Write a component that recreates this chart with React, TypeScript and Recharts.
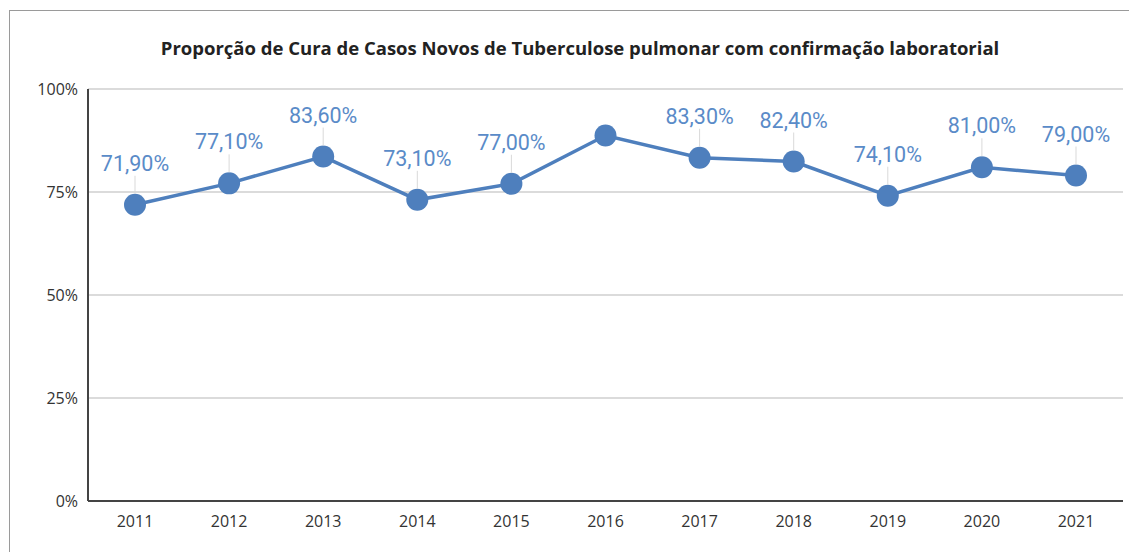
import { CartesianGrid, Line, LineChart, XAxis, YAxis } from "recharts";

const years = ["2011", "2012", "2013", "2014", "2015", "2016", "2017", "2018", "2019", "2020", "2021"];
const cure = [71.9, 77.1, 83.6, 73.1, 77.0, 88.7, 83.3, 82.4, 74.1, 81.0, 79.0];
// 2016 has no label in the original chart
const showLabel = [true, true, true, true, true, false, true, true, true, true, true];
const yTicks = [0, 25, 50, 75, 100];

const data = years.map((year, i) => ({ year, cure: cure[i], show: showLabel[i] }));

const BLUE = "#4e7fbd";
const LABEL_BLUE = "#5a8bc8";

const fmt = (v: number) => v.toFixed(2).replace(".", ",") + "%";

const PointLabel = (props: any) => {
  const { x, y, index, value } = props;
  if (!showLabel[index]) return null;
  return (
    <g>
      <line x1={x} x2={x} y1={y - 11} y2={y - 29} stroke="#d9d9d9" strokeWidth={1} />
      <text
        x={x}
        y={y - 34}
        textAnchor="middle"
        fill={LABEL_BLUE}
        fontSize={21.5}
        fontFamily="Roboto, sans-serif"
      >
        {fmt(value)}
      </text>
    </g>
  );
};

const tickStyle = { fill: "#333", fontSize: 16, fontFamily: "'Open Sans', sans-serif" };

export default function App() {
  return (
    <div style={{ position: "relative", width: 1129, height: 544, fontFamily: "'Open Sans', sans-serif" }}>
      <div
        style={{
          position: "absolute",
          left: 1,
          top: 2,
          right: 0,
          bottom: 0,
          borderTop: "1px solid #9a9a9a",
          borderLeft: "1px solid #9a9a9a",
        }}
      />
      <div
        style={{
          position: "absolute",
          left: 0,
          width: 1144,
          top: 27,
          textAlign: "center",
          fontWeight: 700,
          fontSize: 18.5,
          color: "#222",
          whiteSpace: "nowrap",
        }}
      >
        Proporção de Cura de Casos Novos de Tuberculose pulmonar com confirmação laboratorial
      </div>
      <LineChart
        width={1129}
        height={544}
        data={data}
        margin={{ top: 81, right: 14, left: 0, bottom: 0 }}
        style={{ position: "absolute", left: 0, top: 0 }}
      >
        <CartesianGrid vertical={false} stroke="#cfcfcf" strokeWidth={1.5} />
        <XAxis
          dataKey="year"
          height={51}
          padding={{ left: 47, right: 47 }}
          tickLine={false}
          axisLine={{ stroke: "#444", strokeWidth: 2 }}
          tick={tickStyle}
          tickMargin={9}
        />
        <YAxis
          width={80}
          domain={[0, 100]}
          ticks={yTicks}
          tickFormatter={(v: number) => `${v}%`}
          tickLine={false}
          axisLine={{ stroke: "#444", strokeWidth: 2 }}
          tick={tickStyle}
          tickMargin={4}
        />
        <Line
          type="linear"
          dataKey="cure"
          stroke={BLUE}
          strokeWidth={3.5}
          dot={{ r: 11, fill: BLUE, stroke: BLUE, strokeWidth: 0 }}
          activeDot={false}
          label={<PointLabel />}
          isAnimationActive={false}
        />
      </LineChart>
    </div>
  );
}
